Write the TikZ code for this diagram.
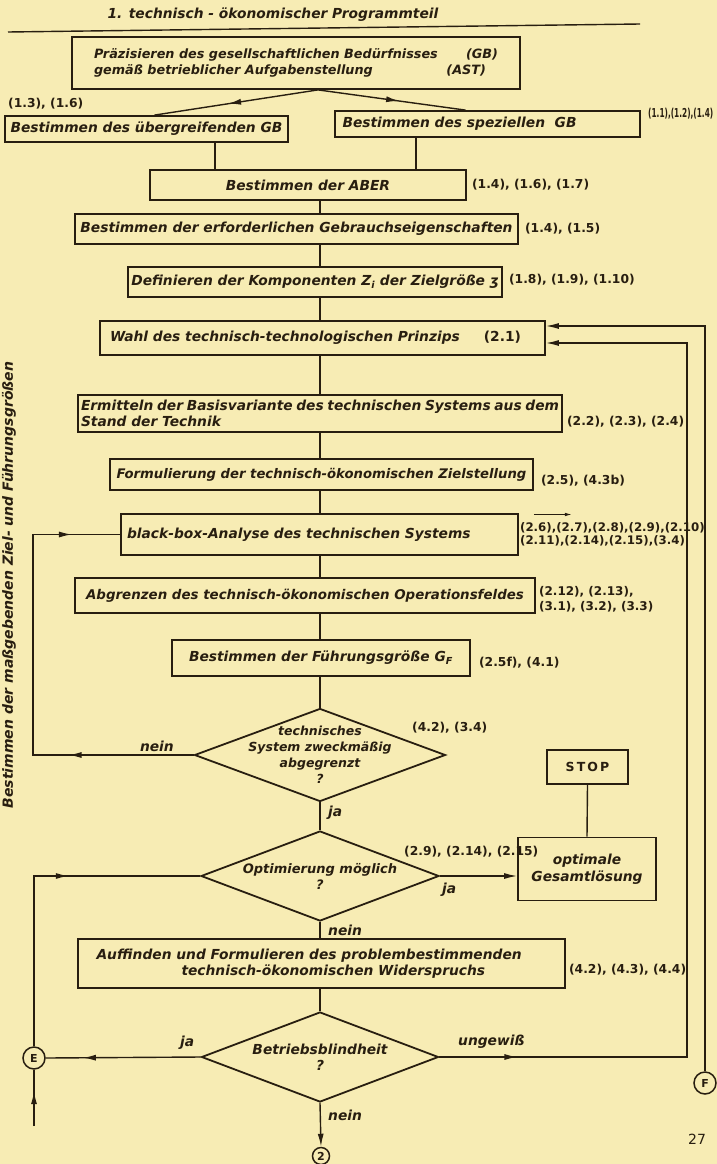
\documentclass[tikz,border=0pt]{standalone}
\usepackage{fontspec}
\setmainfont{DejaVu Sans}
\usetikzlibrary{shapes.geometric,arrows.meta,decorations.markings,calc}
\definecolor{paper}{RGB}{247,236,180}
\definecolor{ink}{RGB}{40,30,16}
\newcommand\bxf{\fontsize{13.8}{16.5}\selectfont\bfseries\itshape}
\newcommand\lbf{\fontsize{12.3}{14}\selectfont\bfseries}
\begin{document}
\begin{tikzpicture}[x=1pt,y=-1pt,
  mytip/.tip={Latex[length=13pt,width=6pt]},
  box/.style={draw=ink, line width=1.8pt, inner sep=0pt, text=ink, font=\bxf},
  dia/.style={draw=ink, line width=1.8pt, diamond, inner sep=0pt, text=ink, font=\bxf},
  circ/.style={draw=ink, line width=1.5pt, circle, inner sep=0pt, minimum size=22pt, text=ink, font=\fontsize{11}{12}\selectfont\bfseries},
  conn/.style={draw=ink, line width=1.4pt},
  lab/.style={text=ink, font=\lbf, inner sep=0pt, anchor=west, align=left},
  yn/.style={text=ink, font=\bxf, inner sep=0pt},
  marr/.style={postaction={decorate}, decoration={markings, mark=at position #1 with {\arrow{mytip}}}},
  marrr/.style 2 args={postaction={decorate}, decoration={markings, mark=at position #1 with {\arrow{mytip}}, mark=at position #2 with {\arrow{mytip}}}}
]
\useasboundingbox (0,0) rectangle (717,1164);
\fill[paper] (0,0) rectangle (717,1164);

% title
\node[text=ink, font=\bxf, inner sep=0pt] (title) at (273,15) {1. technisch - ökonomischer Programmteil};
\coordinate (rl) at (8,32);
\coordinate (rr) at (640,24);
\draw[conn] (rl) -- (rr);

% boxes
\node[box, font=\fontsize{12.8}{16.5}\selectfont\bfseries\itshape, minimum width=448, minimum height=52] (b1) at (296,63)
  {\parbox{404pt}{Präzisieren des gesellschaftlichen Bedürfnisses\hfill(GB)\\gemäß betrieblicher Aufgabenstellung\hfill(AST)\hspace*{12pt}}};
\node[box, minimum width=283, minimum height=26] (lb) at (146.5,129) {Bestimmen des übergreifenden GB};
\node[box, minimum width=305, minimum height=26] (rb) at (487.5,124) {\parbox{290pt}{Bestimmen des speziellen\ \ GB}};
\node[lab] (l13) at (8,104) {(1.3), (1.6)};
\node[lab] (l11) at (648,114) {\scalebox{0.6}[1]{(1.1),(1.2),(1.4)}};

\node[box, minimum width=316, minimum height=30] (aber) at (308,185) {Bestimmen der ABER};
\node[lab] (laber) at ([xshift=5pt]aber.east) {(1.4), (1.6), (1.7)};

\node[box, minimum width=443, minimum height=30] (geb) at (296.5,229) {Bestimmen der erforderlichen Gebrauchseigenschaften};
\node[lab] (lgeb) at ([xshift=6pt]geb.east) {(1.4), (1.5)};

\node[box, minimum width=374, minimum height=30] (def) at (315,282) {Definieren der Komponenten Z\textsubscript{i} der Zielgröße ʒ};
\node[lab] (ldef) at ([xshift=6pt,yshift=2pt]def.east) {(1.8), (1.9), (1.10)};

\node[box, minimum width=445, minimum height=34] (wahl) at (322.5,338)
  {\parbox{425pt}{Wahl des technisch-technologischen Prinzips\hfill\upshape(2.1)\hspace*{14pt}}};

\node[box, minimum width=484, minimum height=37] (erm) at (320,413.5)
  {\parbox{478pt}{Ermitteln der Basisvariante des technischen Systems aus dem\\Stand der Technik}};
\node[lab] (lerm) at ([xshift=4pt,yshift=-8pt]erm.east) {(2.2), (2.3), (2.4)};

\node[box, font=\fontsize{13.2}{16}\selectfont\bfseries\itshape, minimum width=423, minimum height=31] (form) at (321.5,474.5) {Formulierung der technisch-ökonomischen Zielstellung};
\node[lab] (lform) at ([xshift=7pt,yshift=-6pt]form.east) {(2.5), (4.3b)};

\node[box, minimum width=397, minimum height=41] (bb) at (319.5,534.5) {\parbox{385pt}{black-box-Analyse des technischen Systems}};
\node[lab, font=\fontsize{11.8}{13}\selectfont\bfseries] (lbb) at ([xshift=1pt]bb.east) {(2.6),(2.7),(2.8),(2.9),(2.10)\\(2.11),(2.14),(2.15),(3.4)};
\coordinate (ar1) at ([shift={(14pt,8pt)}]lbb.north west);
\coordinate (ar2) at ([shift={(52pt,8pt)}]lbb.north west);
\draw[conn, line width=1pt, -{Latex[length=7pt,width=3.5pt]}] (ar1) -- (ar2);

\node[box, font=\fontsize{13.4}{16}\selectfont\bfseries\itshape, minimum width=460, minimum height=35] (abg) at (305,595.5) {Abgrenzen des technisch-ökonomischen Operationsfeldes};
\node[lab, font=\fontsize{12}{15}\selectfont\bfseries] (labg) at ([xshift=3pt,yshift=-4pt]abg.east) {(2.12), (2.13),\\(3.1), (3.2), (3.3)};

\node[box, minimum width=298, minimum height=36] (fg) at (321,658) {Bestimmen der Führungsgröße G\textsubscript{F}};
\node[lab] (lfg) at ([xshift=8pt,yshift=-5pt]fg.east) {(2.5f), (4.1)};

% decisions
\node[dia, minimum width=251, minimum height=93,
  label={[yn, align=center, font=\fontsize{12.5}{16}\selectfont\bfseries\itshape]center:technisches\\System zweckmäßig\\abgegrenzt\\?}] (d1) at (320,755) {};
\node[lab] (ld1) at (412,728) {(4.2), (3.4)};
\node[yn, anchor=east] (nein1) at (174,746) {nein};
\node[yn, anchor=west] (ja1) at (328,813) {ja};

\node[dia, minimum width=238, minimum height=90,
  label={[yn, align=center, font=\fontsize{13}{16}\selectfont\bfseries\itshape]center:Optimierung möglich\\?}] (d2) at (320,876) {};
\node[lab] (ld2) at (404,852) {(2.9), (2.14), (2.15)};
\node[yn, anchor=west] (ja2) at (442,890) {ja};
\node[yn, anchor=west] (nein2) at (328,930) {nein};

\node[box, minimum width=487, minimum height=49] (auf) at (321.5,963.5)
  {\parbox{450pt}{Auffinden und Formulieren des problembestimmenden\\\hspace*{85pt}technisch-ökonomischen Widerspruchs}};
\node[lab] (lauf) at ([xshift=3pt,yshift=-6pt]auf.east) {(4.2), (4.3), (4.4)};

\node[dia, minimum width=237, minimum height=90,
  label={[yn, align=center]center:Betriebsblindheit\\?}] (d3) at (320,1057) {};
\node[yn, anchor=west] (ja3) at (180,1043) {ja};
\node[yn, anchor=west] (ung) at (458,1042) {ungewiß};
\node[yn, anchor=west] (nein3) at (328,1115) {nein};

\node[box, font=\fontsize{12.5}{14}\selectfont\bfseries, minimum width=81, minimum height=34] (stop) at (587.5,767) {S\,T\,O\,P};
\node[box, minimum width=138, minimum height=63, align=center] (opt) at (587,869) {optimale\\Gesamtlösung};

\node[circ] (E) at (34,1058) {E};
\node[circ] (F) at (705,1083) {F};
\node[circ, minimum size=17pt] (c2) at (321,1156) {2};

\node[text=ink, rotate=90, font=\fontsize{14}{16}\selectfont\bfseries\itshape] (side) at (9,585) {Bestimmen der maßgebenden Ziel- und Führungsgrößen};
\node[text=ink, font=\fontsize{14}{16}\selectfont] (pg) at (697,1139) {27};

% connectors
\coordinate (tx) at (320,0);
\coordinate (xl) at (215,0);
\coordinate (xr) at (416,0);
\draw[conn, marr=0.55] ([xshift=22pt]b1.south) -- ([xshift=8pt]lb.north);
\draw[conn, marr=0.55] ([xshift=22pt]b1.south) -- ([xshift=-22pt]rb.north);
\draw[conn] (lb.south -| xl) -- (aber.north -| xl);
\draw[conn] (rb.south -| xr) -- (aber.north -| xr);
\draw[conn] (aber.south -| tx) -- (geb.north -| tx);
\draw[conn] (geb.south -| tx) -- (def.north -| tx);
\draw[conn] (def.south -| tx) -- (wahl.north -| tx);
\draw[conn] (wahl.south -| tx) -- (erm.north -| tx);
\draw[conn] (erm.south -| tx) -- (form.north -| tx);
\draw[conn] (form.south -| tx) -- (bb.north -| tx);
\draw[conn] (bb.south -| tx) -- (abg.north -| tx);
\draw[conn] (abg.south -| tx) -- (fg.north -| tx);
\draw[conn] (fg.south -| tx) -- (d1.north);
\draw[conn] (d1.south) -- (d2.north);
\draw[conn] (d2.south) -- (auf.north -| tx);
\draw[conn] (auf.south -| tx) -- (d3.north);
\draw[conn, -{mytip}] (d3.south) -- (c2.north);

% loop 1 (nein)
\coordinate (l1a) at (33,755);
\coordinate (l1b) at (33,534.5);
\draw[conn, marrr={125pt}{420pt}] (d1.west) -- (l1a) -- (l1b) -- (bb.west);

% loop 2 via E
\coordinate (l2a) at (34,876);
\draw[conn, marr=205pt] (E.north) -- (l2a) -- (d2.west);
\draw[conn, marr=0.76] (d3.west) -- (E.east);
\coordinate (eb) at (34,1126);
\draw[conn, marr=0.62] (eb) -- (E.south);

% optimum
\draw[conn, -{mytip}] (d2.east) -- (d2.east -| opt.west);
\draw[conn] (stop.south) -- (opt.north);

% right returns
\coordinate (r1) at (687,1057);
\coordinate (r2) at (687,343);
\draw[conn, marr=78pt, -{mytip}] (d3.east) -- (r1) -- (r2) -- (wahl.east |- r2);
\coordinate (r3) at (705,326);
\draw[conn, -{mytip}] (F.north) -- (r3) -- (wahl.east |- r3);
\end{tikzpicture}
\end{document}
